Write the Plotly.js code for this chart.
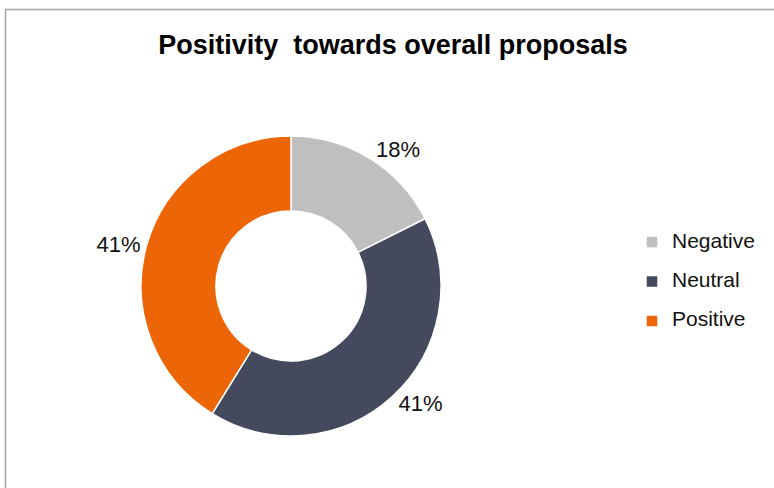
<!DOCTYPE html>
<html>
<head>
<meta charset="utf-8">
<script src="https://cdn.plot.ly/plotly-3.0.1.min.js"></script>
<style>html,body{margin:0;padding:0;background:#fff;}#chart{width:774px;height:488px;}</style>
</head>
<body>
<div id="chart"></div>
<script>
var categories = ["Negative", "Neutral", "Positive"];
var shares = [17.6, 41.2, 41.2];
var sliceColors = ["#bfbfbf", "#44495e", "#ec6608"];
var chartTitle = "Positivity towards overall proposals";

var FONT = "Liberation Sans, Arial, sans-serif";

var legendLabels = categories.map(function (c) {
  return "<span style='font-size:21px'>" + c + "</span><br> ";
});

var trace = {
  type: "pie",
  labels: legendLabels,
  values: shares,
  hole: 0.5,
  sort: false,
  direction: "clockwise",
  rotation: 0,
  marker: {colors: sliceColors, line: {color: "#ffffff", width: 1.5}},
  texttemplate: "%{percent:.0%}",
  textposition: "outside",
  textfont: {family: FONT, size: 22, color: "#111111"},
  domain: {x: [141/774, 441/774], y: [52/488, 352/488]},
  hoverinfo: "skip"
};

var layout = {
  width: 774,
  height: 488,
  margin: {l: 0, r: 0, t: 0, b: 0},
  paper_bgcolor: "#ffffff",
  title: {
    text: "<b>" + chartTitle.replace(" ", "\u00a0 ") + "</b>",
    font: {family: FONT, size: 27, color: "#000000"},
    x: 393/774, xanchor: "center",
    y: 1 - 45/488, yanchor: "middle"
  },
  showlegend: true,
  legend: {
    x: 632/774, xanchor: "left",
    y: 1 - 291/488, yanchor: "middle",
    valign: "top",
    font: {family: FONT, size: 14, color: "#111111"},
    bgcolor: "rgba(0,0,0,0)"
  },
  shapes: [{
    type: "rect", xref: "paper", yref: "paper",
    x0: 5.5/774, x1: 1.05, y0: -0.05, y1: 1 - 9.5/488,
    line: {color: "#a6a6a6", width: 1.5}
  }]
};

Plotly.newPlot("chart", [trace], layout, {displayModeBar: false, staticPlot: true});
</script>
</body>
</html>
